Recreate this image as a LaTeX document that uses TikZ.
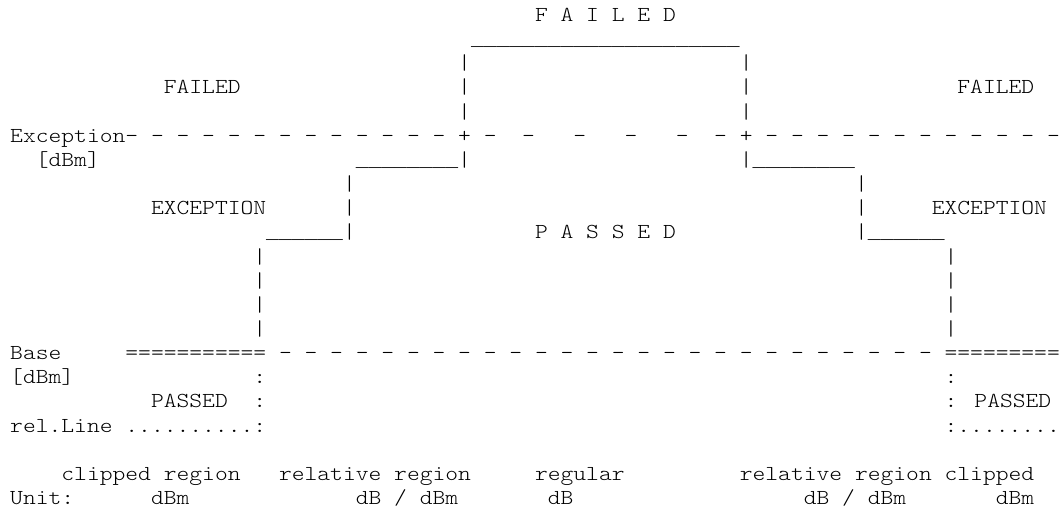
\documentclass[tikz,border=0pt]{standalone}
\usepackage{fontspec}
\newfontfamily\barfont{Liberation Mono}
\newcommand\lowline[1]{{\barfont\fontsize{18.66}{24}\selectfont#1}}
\tikzset{ascii/.style={anchor=base west, inner sep=0pt, yshift=-6.5pt, xscale=1.143,
    font=\ttfamily\fontseries{l}\fontsize{21.33}{24}\selectfont}}

\begin{document}
\begin{tikzpicture}[x=12.8pt, y=-24.15pt]
	\useasboundingbox (-0.78125,-0.6211) rectangle (82.1875,20.5797);

	% failed box on top
	\node[ascii] (failtop) at (41,0) {F A I L E D};
	\node[ascii] (roof) at (36,1) {\lowline{\_\_\_\_\_\_\_\_\_\_\_\_\_\_\_\_\_\_\_\_\_}};
	\foreach \r in {2,3,4} {
		\node[ascii] (wallL\r) at (35,\r) {|};
		\node[ascii] (wallR\r) at (57,\r) {|};
	}
	\node[ascii] (failL) at (12,3) {FAILED};
	\node[ascii] (failR) at (74,3) {FAILED};

	% exception level
	\node[ascii] (excL) at (0,5) {Exception- - - - - - - - - - - - - +};
	\foreach \c in {37,40,44,48,52,55}
		\node[ascii] (excM\c) at (\c,5) {-};
	\node[ascii] (excR) at (57,5) {+ - - - - - - - - - - - -};
	\node[ascii] (excunit) at (2,6) {[dBm]};

	% steps
	\node[ascii] (stepA) at (27,6) {\lowline{\_\_\_\_\_\_\_\_}|};
	\node[ascii] (stepB) at (57,6) {|\lowline{\_\_\_\_\_\_\_\_}};
	\foreach \r in {7,8} {
		\node[ascii] (riseL\r) at (26,\r) {|};
		\node[ascii] (riseR\r) at (66,\r) {|};
	}
	\node[ascii] (exceptL) at (11,8) {EXCEPTION};
	\node[ascii] (exceptR) at (72,8) {EXCEPTION};
	\node[ascii] (stepC) at (20,9) {\lowline{\_\_\_\_\_\_}|};
	\node[ascii] (passmid) at (41,9) {P A S S E D};
	\node[ascii] (stepD) at (66,9) {|\lowline{\_\_\_\_\_\_}};
	\foreach \r in {10,...,13} {
		\node[ascii] (postL\r) at (19,\r) {|};
		\node[ascii] (postR\r) at (73,\r) {|};
	}

	% base level
	\node[ascii] (base) at (0,14) {Base};
	\node[ascii] (baseL) at (9,14) {===========};
	\node[ascii] (baseM) at (21,14) {- - - - - - - - - - - - - - - - - - - - - - - - - -};
	\node[ascii] (baseR) at (73,14) {=========};
	\node[ascii] (baseunit) at (0,15) {[dBm]};
	\node[ascii] (dotL15) at (19,15) {:};
	\node[ascii] (dotR15) at (73,15) {:};
	\node[ascii] (passL) at (11,16) {PASSED};
	\node[ascii] (dotL16) at (19,16) {:};
	\node[ascii] (passR) at (73,16) {: PASSED};
	\node[ascii] (relL) at (0,17) {rel.Line ..........:};
	\node[ascii] (relR) at (73,17) {:........};

	% regions
	\node[ascii] (reg1) at (4,19) {clipped region};
	\node[ascii] (reg2) at (21,19) {relative region};
	\node[ascii] (reg3) at (41,19) {regular};
	\node[ascii] (reg4) at (57,19) {relative region};
	\node[ascii] (reg5) at (73,19) {clipped};
	\node[ascii] (unit) at (0,20) {Unit:};
	\node[ascii] (unit1) at (11,20) {dBm};
	\node[ascii] (unit2) at (27,20) {dB / dBm};
	\node[ascii] (unit3) at (42,20) {dB};
	\node[ascii] (unit4) at (62,20) {dB / dBm};
	\node[ascii] (unit5) at (77,20) {dBm};

\end{tikzpicture}
\end{document}
